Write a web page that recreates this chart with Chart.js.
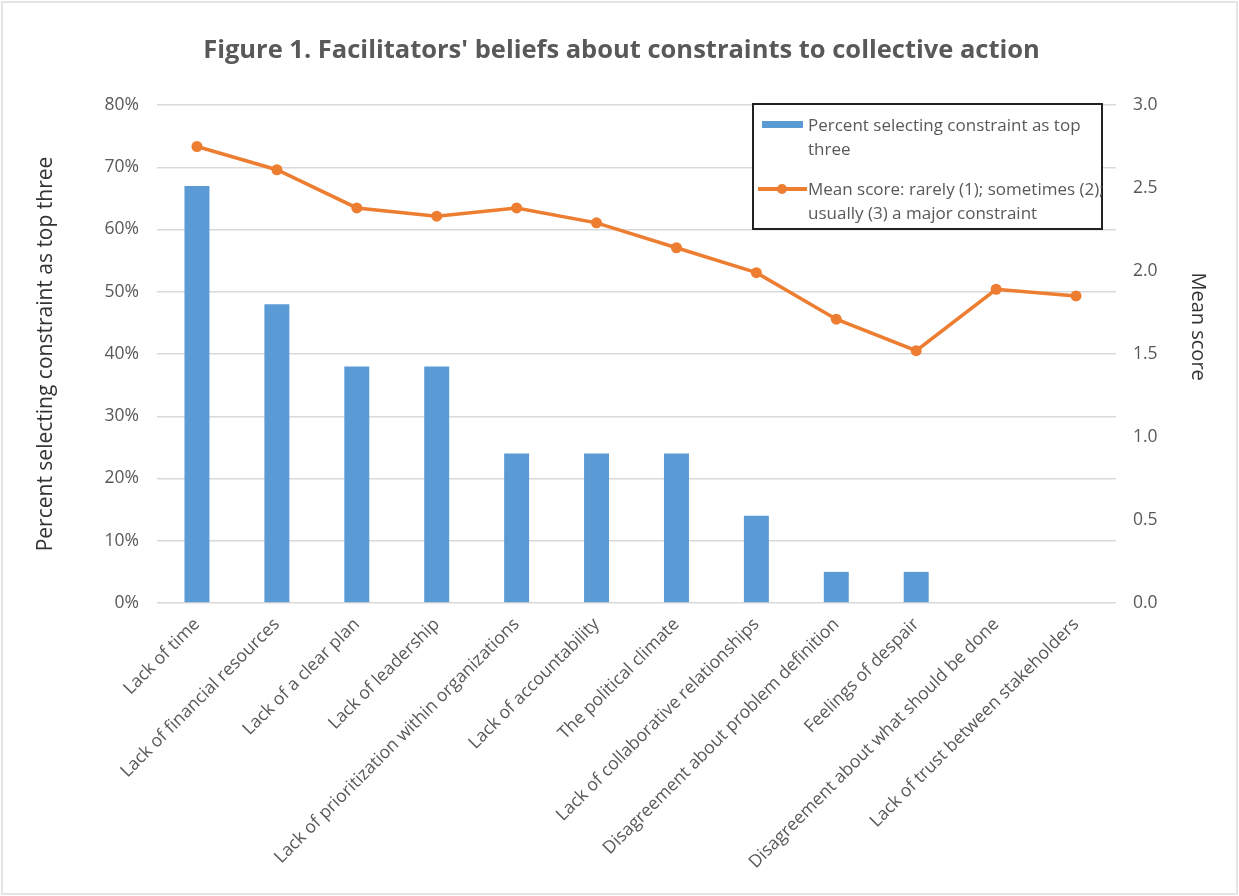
<!DOCTYPE html>
<html>
<head>
<meta charset="utf-8">
<script src="https://cdn.jsdelivr.net/npm/chart.js@4.4.0/dist/chart.umd.min.js"></script>
<style>
    html, body { margin: 0; padding: 0; background: #fff; }
    #wrap { position: relative; width: 1239px; height: 896px; overflow: hidden; }
    #frame {
        position: absolute; left: 1px; top: 1px; right: 1px; bottom: 1px;
        border: 2px solid #e4e4e4; pointer-events: none;
    }
    #legend {
        position: absolute; left: 752px; top: 103px; width: 347px; height: 123px;
        border: 2px solid #222; background: #fff;
        font-family: 'Open Sans', sans-serif; font-size: 17px; color: #595959;
    }
    .swatch { position: absolute; }
    .txt { position: absolute; left: 54px; width: 310px; line-height: 24px; white-space: normal; }
</style>
</head>
<body>
<div id="wrap">
    <canvas id="chart" width="1239" height="896"></canvas>
    <div id="legend"></div>
    <div id="frame"></div>
</div>
<script>
// Categories along the x axis
const categories = [
    'Lack of time',
    'Lack of financial resources',
    'Lack of a clear plan',
    'Lack of leadership',
    'Lack of prioritization within organizations',
    'Lack of accountability',
    'The political climate',
    'Lack of collaborative relationships',
    'Disagreement about problem definition',
    'Feelings of despair',
    'Disagreement about what should be done',
    'Lack of trust between stakeholders',
];

// Percent selecting constraint as top three (left axis, %)
const percentTopThree = [67, 48, 38, 38, 24, 24, 24, 14, 5, 5, 0, 0];

// Mean score (right axis)
const meanScore = [2.75, 2.61, 2.38, 2.33, 2.38, 2.29, 2.14, 1.99, 1.71, 1.52, 1.89, 1.85];

const seriesLabels = [
    'Percent selecting constraint as top three',
    'Mean score: rarely (1); sometimes (2); usually (3) a major constraint',
];

// Axis ranges
const percentAxis = { min: 0, max: 80, step: 10 };
const scoreAxis = { min: 0, max: 3, step: 0.5 };

const BLUE = '#5B9BD5';
const ORANGE = '#ED7D31';
const GRID = '#D9D9D9';
const TICK = '#595959';

Chart.defaults.font.family = "'Open Sans', sans-serif";

// Right axis title sits a little above the middle in the original, so draw it by hand
const rightTitle = {
    id: 'rightTitle',
    afterDraw: (chart) => {
        const ctx = chart.ctx;
        const scale = chart.scales.y1;
        ctx.save();
        ctx.translate(scale.right - 12, chart.chartArea.top + chart.chartArea.height * 0.445);
        ctx.rotate(Math.PI / 2);
        ctx.font = "20px 'Open Sans', sans-serif";
        ctx.fillStyle = '#333';
        ctx.textAlign = 'center';
        ctx.textBaseline = 'middle';
        ctx.fillText('Mean score', 0, 0);
        ctx.restore();
    },
};

const chart = new Chart(document.getElementById('chart'), {
    type: 'bar',
    data: {
        labels: categories,
        datasets: [
            {
                type: 'line',
                label: seriesLabels[1],
                data: meanScore,
                yAxisID: 'y1',
                borderColor: ORANGE,
                backgroundColor: ORANGE,
                borderWidth: 3.5,
                pointRadius: 5.5,
                pointBorderWidth: 0,
                pointBackgroundColor: ORANGE,
                tension: 0,
                order: 0,
            },
            {
                type: 'bar',
                label: seriesLabels[0],
                data: percentTopThree,
                yAxisID: 'y',
                backgroundColor: BLUE,
                categoryPercentage: 1,
                barPercentage: 0.3125,
                order: 1,
            },
        ],
    },
    plugins: [rightTitle],
    options: {
        responsive: false,
        animation: false,
        layout: { padding: { left: 33, right: 29, top: 0, bottom: 0 } },
        plugins: {
            legend: { display: false },
            tooltip: { enabled: false },
            title: {
                display: true,
                text: "Figure 1. Facilitators' beliefs about constraints to collective action",
                color: TICK,
                font: { size: 25.5, weight: 'bold' },
                padding: { top: 35, bottom: 39.4 },
            },
        },
        scales: {
            x: {
                grid: { display: false },
                border: { display: false },
                ticks: {
                    color: TICK,
                    font: { size: 17.6 },
                    minRotation: 45,
                    maxRotation: 45,
                    autoSkip: false,
                    padding: 3,
                },
                afterFit: (scale) => { scale.height = 293; },
            },
            y: {
                position: 'left',
                min: percentAxis.min,
                max: percentAxis.max,
                grid: { color: GRID, lineWidth: 1.5, drawTicks: false },
                border: { display: false },
                ticks: {
                    stepSize: percentAxis.step,
                    color: TICK,
                    font: { size: 17.5 },
                    padding: 18,
                    callback: (v) => v + '%',
                },
                title: {
                    display: true,
                    text: 'Percent selecting constraint as top three',
                    color: '#333',
                    font: { size: 21 },
                    padding: 0,
                },
                afterFit: (scale) => { scale.width = 124; },
            },
            y1: {
                position: 'right',
                min: scoreAxis.min,
                max: scoreAxis.max,
                grid: { display: false, drawTicks: false },
                border: { display: false },
                ticks: {
                    stepSize: scoreAxis.step,
                    color: TICK,
                    font: { size: 17.5 },
                    padding: 17,
                    callback: (v) => Number(v).toFixed(1),
                },
                afterFit: (scale) => { scale.width = 94; },
            },
        },
    },
});

// Legend drawn as HTML, boxed inside the plot area like the original
const legend = document.getElementById('legend');
const barDs = chart.data.datasets[1];
const lineDs = chart.data.datasets[0];
legend.innerHTML =
    '<div class="swatch" style="left:8px;top:16px;width:41px;height:7px;background:' + barDs.backgroundColor + '"></div>' +
    '<div class="txt" style="top:8px">' + barDs.label + '</div>' +
    '<div class="swatch" style="left:4px;top:82px;width:49px;height:4px;background:' + lineDs.borderColor + '"></div>' +
    '<div class="swatch" style="left:23px;top:79px;width:10px;height:10px;border-radius:50%;background:' + lineDs.borderColor + '"></div>' +
    '<div class="txt" style="top:72px">' + lineDs.label + '</div>';
</script>
</body>
</html>
